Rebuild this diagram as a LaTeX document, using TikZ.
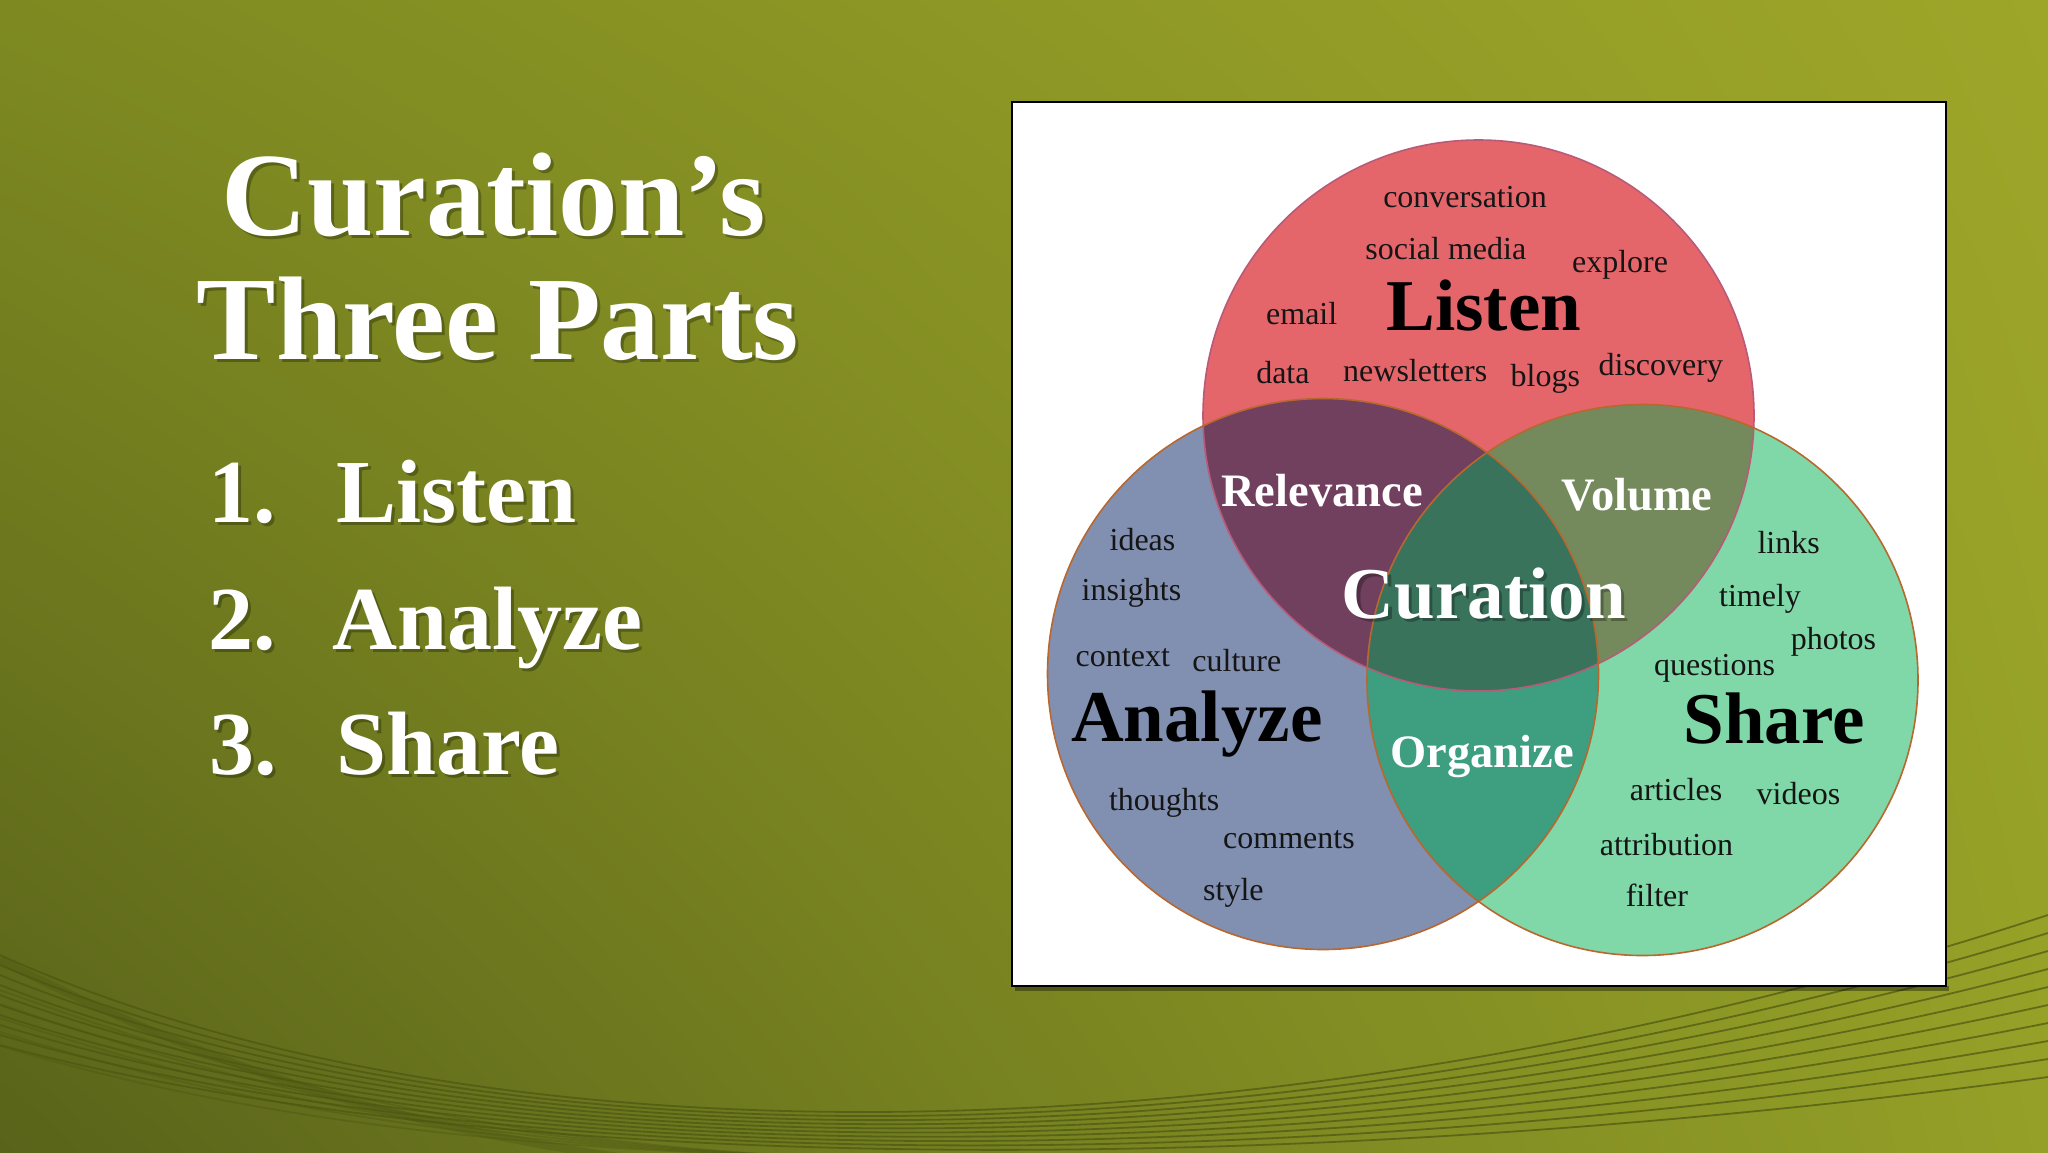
\documentclass[tikz,border=0pt]{standalone}
\usepackage{fontspec}
\setmainfont{Liberation Serif}
\usetikzlibrary{shadings}
\definecolor{bgUL}{HTML}{7E8A21}
\definecolor{bgUR}{HTML}{9EA629}
\definecolor{bgLL}{HTML}{59631A}
\definecolor{bgLR}{HTML}{94A027}
\definecolor{bgLine}{HTML}{4C5612}
\definecolor{cRed}{HTML}{E4666B}
\definecolor{cBlue}{HTML}{818FB0}
\definecolor{cGreen}{HTML}{80D8A8}
\definecolor{cRB}{HTML}{71405F}
\definecolor{cRG}{HTML}{748A5C}
\definecolor{cBG}{HTML}{3E9E80}
\definecolor{cAll}{HTML}{3A735C}
\definecolor{outR}{HTML}{B85A78}
\definecolor{outO}{HTML}{B8682E}
\definecolor{wordc}{HTML}{151515}
\tikzset{
  word/.style={anchor=base, inner sep=0pt, text=wordc, font=\fontsize{32}{36}\selectfont},
  bigword/.style={anchor=base, inner sep=0pt, text=black, font=\fontsize{73}{80}\selectfont\bfseries},
  bigwhite/.style={anchor=base, inner sep=0pt, text=white, font=\fontsize{73}{80}\selectfont\bfseries},
  midwhite/.style={anchor=base, inner sep=0pt, text=white, font=\fontsize{46.5}{52}\selectfont\bfseries},
  shadowtxt/.style={text=black, text opacity=0.28},
  titletxt/.style={anchor=base, inner sep=0pt, text=white, font=\fontsize{119}{130}\selectfont\bfseries},
  listtxt/.style={anchor=base west, inner sep=0pt, text=white, font=\fontsize{90}{100}\selectfont\bfseries},
  curve/.style={draw=bgLine, line width=1.8pt, opacity=0.7},
  ring/.style={line width=1.6pt}
}
\begin{document}
\begin{tikzpicture}[x=1pt,y=-1pt]
\useasboundingbox (0,0) rectangle (2048,1152);
% background
\shade[upper left=bgUL, upper right=bgUR, lower left=bgLL, lower right=bgLR] (0,0) rectangle (2048,1152);
% swoosh lines
\draw[bgLine, line width=8pt, opacity=0.35] (0,960) .. controls (180,1050) and (350,1120) .. (640,1160);
\foreach \k in {0,...,9}{
  \draw[curve] (0,{955+10*\k}) .. controls (500,1180) and (1300,{1160+2*\k}) .. (2048,{915+18*\k});
}
\foreach \k in {0,...,4}{
  \draw[curve, opacity=0.4] (0,{990+14*\k}) .. controls (250,{1080+10*\k}) and (500,1150) .. (900,{1160});
}
% title
\node[titletxt, shadowtxt] (t1s) at (497,238) {Curation’s};
\node[titletxt] (t1) at (494,235) {Curation’s};
\node[titletxt, shadowtxt] (t2s) at (501,362) {Three Parts};
\node[titletxt] (t2) at (498,359) {Three Parts};
% list
\node[listtxt, shadowtxt] (n1s) at (211,525) {1.};
\node[listtxt] (n1) at (208,522) {1.};
\node[listtxt, shadowtxt] (l1s) at (339,525) {Listen};
\node[listtxt] (l1) at (336,522) {Listen};
\node[listtxt, shadowtxt] (n2s) at (211,652) {2.};
\node[listtxt] (n2) at (208,649) {2.};
\node[listtxt, shadowtxt] (l2s) at (335,652) {Analyze};
\node[listtxt] (l2) at (332,649) {Analyze};
\node[listtxt, shadowtxt] (n3s) at (212,777) {3.};
\node[listtxt] (n3) at (209,774) {3.};
\node[listtxt, shadowtxt] (l3s) at (339,777) {Share};
\node[listtxt] (l3) at (336,774) {Share};
% white box
\fill[black, opacity=0.35] (1015,986) rectangle (1949,991);
\draw[black, line width=2pt, fill=white] (1012,102) rectangle (1946,986);
% circles
\coordinate (cR) at (1478.5,415.5);
\coordinate (cB) at (1323,674);
\coordinate (cG) at (1642.5,680);
\fill[cRed] (cR) circle[radius=275.5];
\fill[cBlue] (cB) circle[radius=275.5];
\fill[cGreen] (cG) circle[radius=275.5];
\begin{scope}
  \clip (cR) circle[radius=275.5];
  \fill[cRB] (cB) circle[radius=275.5];
  \fill[cRG] (cG) circle[radius=275.5];
\end{scope}
\begin{scope}
  \clip (cB) circle[radius=275.5];
  \fill[cBG] (cG) circle[radius=275.5];
\end{scope}
\begin{scope}
  \clip (cR) circle[radius=275.5];
  \clip (cB) circle[radius=275.5];
  \fill[cAll] (cG) circle[radius=275.5];
\end{scope}
\draw[ring, outR] (cR) circle[radius=275.5];
\draw[ring, outO] (cB) circle[radius=275.5];
\draw[ring, outO] (cG) circle[radius=275.5];
% Listen words
\node[word] (w1) at (1465,207.7) {conversation};
\node[word] (w2) at (1445.8,259.3) {social media};
\node[word] (w3) at (1620,272.5) {explore};
\node[word] (w4) at (1301.7,324.2) {email};
\node[bigword] (bl) at (1483.7,330) {Listen};
\node[word] (w5) at (1282.9,383.9) {data};
\node[word] (w6) at (1415.2,381) {newsletters};
\node[word] (w7) at (1545.3,386.8) {blogs};
\node[word] (w8) at (1660.8,375.3) {discovery};
% overlaps
\node[midwhite] (rel) at (1322,506.2) {Relevance};
\node[midwhite] (vol) at (1637,510.2) {Volume};
\node[midwhite] (org) at (1482.1,767.4) {Organize};
\node[bigwhite, shadowtxt] (curs) at (1487,621.3) {Curation};
\node[bigwhite] (cur) at (1483.8,618.1) {Curation};
% Analyze words
\node[word] (a1) at (1142.5,550.4) {ideas};
\node[word] (a2) at (1131.4,600.9) {insights};
\node[word] (a3) at (1122.8,666.9) {context};
\node[word] (a4) at (1236.9,671) {culture};
\node[bigword] (ba) at (1196.8,741.6) {Analyze};
\node[word] (a5) at (1164.2,810.4) {thoughts};
\node[word] (a6) at (1288.9,848.9) {comments};
\node[word] (a7) at (1233.4,900.6) {style};
% Share words
\node[word] (s1) at (1788.6,553.8) {links};
\node[word] (s2) at (1760,606.6) {timely};
\node[word] (s3) at (1833.5,649.7) {photos};
\node[word] (s4) at (1714.6,675.5) {questions};
\node[bigword] (bs) at (1774.2,743.3) {Share};
\node[word] (s5) at (1676,800.7) {articles};
\node[word] (s6) at (1798.5,804.7) {videos};
\node[word] (s7) at (1666.5,855.2) {attribution};
\node[word] (s8) at (1656.9,906.3) {filter};
\end{tikzpicture}
\end{document}
